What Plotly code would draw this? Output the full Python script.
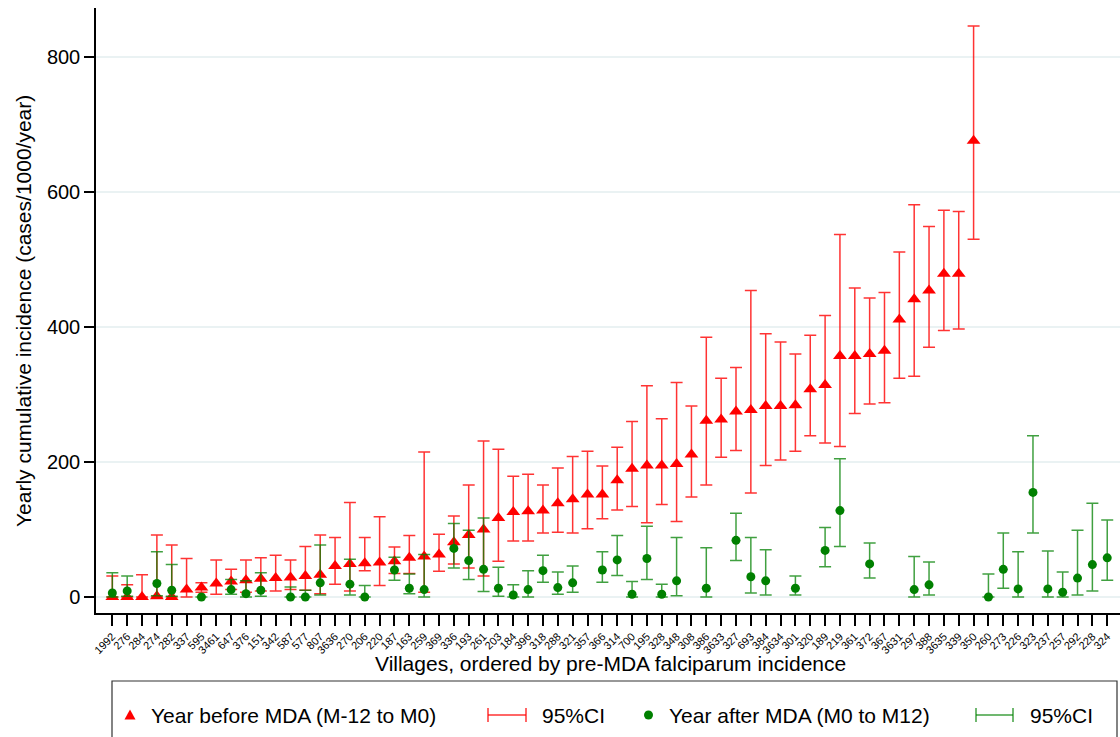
import plotly.graph_objects as go

# ---------------- data ----------------
villages = ["1992", "276", "284", "274", "282", "337", "595", "3461", "647", "376",
            "151", "342", "587", "577", "807", "3636", "270", "206", "220", "187",
            "163", "259", "369", "336", "193", "261", "203", "184", "396", "318",
            "288", "321", "357", "366", "314", "700", "195", "328", "348", "308",
            "386", "3633", "327", "693", "384", "3634", "301", "320", "189", "219",
            "361", "372", "367", "3631", "297", "388", "3635", "339", "350", "260",
            "273", "226", "323", "237", "257", "292", "228", "324"]

N = None
# Year before MDA (M-12 to M0)
pre_inc = [0, 0, 0, 1, 0, 11, 14, 20, 23, 25,
           27, 28, 29, 31, 33, 46, 49, 50, 51, 53,
           58, 60, 63, 81, 92, 100, 117, 126, 127, 128,
           139, 145, 152, 152, 173, 190, 195, 195, 197, 211,
           261, 263, 275, 277, 283, 283, 284, 308, 314, 357,
           357, 360, 365, 411, 441, 454, 479, 479, 676, N,
           N, N, N, N, N, N, N, N]
pre_lo = [0, 0, 0, 0, 0, 0, 7, 4, 11, 7,
          9, 9, 11, 10, 5, 19, 9, 39, 17, 35,
          35, 7, 38, 49, 43, 31, 53, 83, 83, 95,
          96, 95, 101, 116, 129, 134, 110, 137, 112, 148,
          166, 207, 217, 154, 195, 203, 216, 239, 228, 223,
          272, 286, 288, 324, 327, 370, 395, 397, 530, N,
          N, N, N, N, N, N, N, N]
pre_hi = [31, 18, 33, 92, 77, 57, 21, 55, 41, 55,
          58, 62, 55, 75, 92, 88, 140, 88, 119, 74,
          91, 215, 93, 120, 166, 231, 219, 179, 182, 166,
          191, 208, 216, 194, 222, 260, 313, 264, 318, 283,
          385, 324, 340, 454, 390, 378, 360, 388, 417, 537,
          458, 443, 451, 511, 581, 549, 573, 571, 846, N,
          N, N, N, N, N, N, N, N]

# Year after MDA (M0 to M12)
post_inc = [6, 9, N, 20, 10, N, 0, N, 11, 5,
            10, N, 0, 0, 21, N, 19, 0, N, 40,
            13, 11, N, 72, 54, 41, 13, 3, 11, 39,
            14, 21, N, 40, 55, 4, 57, 4, 24, N,
            13, N, 84, 30, 24, N, 13, N, 69, 128,
            N, 49, N, N, 11, 18, N, N, N, 0,
            41, 12, 155, 12, 7, 28, 48, 58]
post_lo = [0, 1, N, 2, 1, N, 0, N, 4, 0,
           1, N, 0, 0, 3, N, 3, 0, N, 25,
           5, 0, N, 43, 26, 8, 1, 0, 0, 22,
           4, 7, N, 22, 32, 0, 26, 0, 2, N,
           0, N, 54, 6, 3, N, 3, N, 45, 75,
           N, 28, N, N, 0, 3, N, N, N, 0,
           13, 0, 95, 0, 0, 3, 9, 25]
post_hi = [36, 31, N, 67, 48, N, 0, N, 26, 24,
           36, N, 15, 10, 77, N, 56, 17, N, 59,
           34, 63, N, 109, 99, 117, 44, 18, 39, 62,
           37, 46, N, 67, 91, 23, 105, 19, 88, N,
           73, N, 124, 88, 70, N, 31, N, 103, 205,
           N, 80, N, N, 60, 52, N, N, N, 34,
           95, 67, 239, 68, 37, 99, 139, 114]

yticks = [0, 200, 400, 600, 800]

# ---------------- figure ----------------
W, H = 1120, 737
ML, MR, MT, MB = 96, 0, 8, 124
PW, PH = W - ML - MR, H - MT - MB

xpos = list(range(len(villages)))


def plus(v, hi):
    return [None if a is None else b - a for a, b in zip(v, hi)]


def minus(v, lo):
    return [None if a is None else a - b for a, b in zip(v, lo)]


RED = "#FF0000"
GREEN = "#008000"
RED_CI = "rgba(255,0,0,0.8)"
GREEN_CI = "rgba(0,128,0,0.75)"
FONT = "Arial, Liberation Sans, sans-serif"

fig = go.Figure()
fig.add_trace(go.Scatter(
    x=xpos, y=pre_inc, mode="markers",
    marker=dict(symbol="triangle-up", size=12, color=RED),
    error_y=dict(type="data", symmetric=False, array=plus(pre_inc, pre_hi),
                 arrayminus=minus(pre_inc, pre_lo), color=RED_CI,
                 thickness=1.5, width=6),
    name="Year before MDA (M-12 to M0)", showlegend=False))
fig.add_trace(go.Scatter(
    x=xpos, y=post_inc, mode="markers",
    marker=dict(symbol="circle", size=9, color=GREEN),
    error_y=dict(type="data", symmetric=False, array=plus(post_inc, post_hi),
                 arrayminus=minus(post_inc, post_lo), color=GREEN_CI,
                 thickness=1.5, width=6),
    name="Year after MDA (M0 to M12)", showlegend=False))


# pixel -> paper helpers for the hand-drawn legend / titles
def px(X):
    return (X - ML) / PW


def py(Y):
    return (H - MB - Y) / PH


shapes = []
annotations = []

# legend box
shapes.append(dict(type="rect", xref="paper", yref="paper",
                   x0=px(112), x1=px(1117), y0=py(681), y1=py(745),
                   line=dict(color="#333333", width=1.2), fillcolor="rgba(0,0,0,0)"))
LY = 715
# red triangle
shapes.append(dict(type="path", xref="paper", yref="paper",
                   path=f"M {px(124.5)},{py(LY+4.5)} L {px(135.5)},{py(LY+4.5)} L {px(130)},{py(LY-5.5)} Z",
                   fillcolor=RED, line=dict(color=RED, width=0)))
# CI symbols
for (a, b, col) in [(488, 526, RED_CI), (976, 1013, GREEN_CI)]:
    shapes.append(dict(type="line", xref="paper", yref="paper",
                       x0=px(a), x1=px(b), y0=py(LY), y1=py(LY), line=dict(color=col, width=1.5)))
    for e in (a, b):
        shapes.append(dict(type="line", xref="paper", yref="paper",
                           x0=px(e), x1=px(e), y0=py(LY - 7), y1=py(LY + 7),
                           line=dict(color=col, width=1.5)))
# green dot
shapes.append(dict(type="circle", xref="paper", yref="paper",
                   x0=px(644), x1=px(653), y0=py(LY + 4.5), y1=py(LY - 4.5),
                   fillcolor=GREEN, line=dict(color=GREEN, width=0)))

for (xx, txt) in [(149, "Year before MDA (M-12 to M0)"), (540, "95%CI"),
                  (667, "Year after MDA (M0 to M12)"), (1028, "95%CI")]:
    annotations.append(dict(xref="paper", yref="paper", x=px(xx), y=py(LY),
                            xanchor="left", yanchor="middle", text=txt, showarrow=False,
                            font=dict(size=21, color="black", family=FONT)))

# axis titles
annotations.append(dict(xref="paper", yref="paper", x=px(610), y=py(663),
                        xanchor="center", yanchor="middle", showarrow=False,
                        text="Villages, ordered by pre-MDA falciparum incidence",
                        font=dict(size=21, color="black", family=FONT)))
annotations.append(dict(xref="paper", yref="paper", x=px(23), y=py(311),
                        xanchor="center", yanchor="middle", showarrow=False, textangle=-90,
                        text="Yearly cumulative incidence (cases/1000/year)",
                        font=dict(size=21, color="black", family=FONT)))

fig.update_layout(
    width=W, height=H,
    margin=dict(l=ML, r=MR, t=MT, b=MB, pad=0),
    paper_bgcolor="white", plot_bgcolor="white",
    font=dict(family=FONT, color="black"),
    shapes=shapes, annotations=annotations,
    showlegend=False,
    xaxis=dict(range=[-1.1, 67.86], tickmode="array", tickvals=xpos, ticktext=villages,
               tickangle=-45, tickfont=dict(size=11, color="black"),
               ticks="outside", ticklen=11, tickwidth=1.5, tickcolor="black",
               showline=True, linecolor="black", linewidth=1.5,
               showgrid=False, zeroline=False),
    yaxis=dict(range=[-23.7, 872.7], tickmode="array", tickvals=yticks,
               ticktext=[str(v) for v in yticks],
               tickfont=dict(size=20, color="black"),
               ticks="outside", ticklen=10, tickwidth=1.5, tickcolor="black",
               showline=True, linecolor="black", linewidth=1.5,
               showgrid=True, gridcolor="#EAF2F3", gridwidth=1.5, zeroline=False),
)

fig.write_html("out.html", config={"displayModeBar": False},
               post_script="document.body.style.margin='0';document.body.style.overflow='hidden';")
